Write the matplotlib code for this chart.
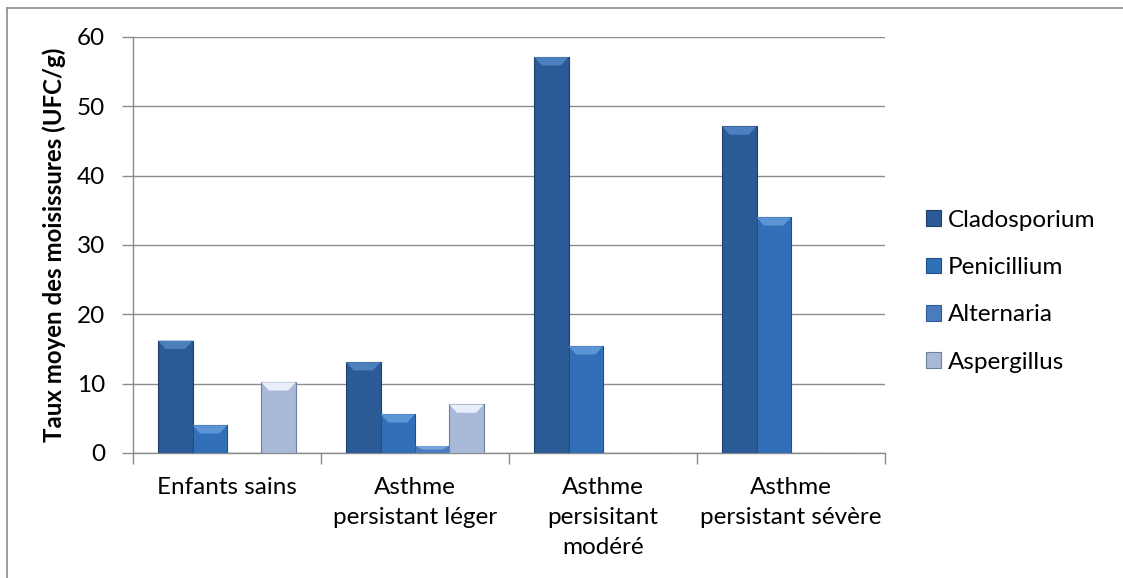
import numpy as np
import matplotlib.pyplot as plt
from matplotlib.patches import Polygon
from matplotlib.lines import Line2D

# categories and values
categories = ['Enfants sains', 'Asthme\npersistant léger', 'Asthme\npersisitant\nmodéré',
              'Asthme\npersistant sévère']
series = ['Cladosporium', 'Penicillium', 'Alternaria', 'Aspergillus']
cladosporium = [16.2, 13.1, 57.1, 47.1]
penicillium = [4.0, 5.6, 15.4, 34.0]
alternaria = [0, 1.0, 0, 0]
aspergillus = [10.2, 7.0, 0, 0]
values = [cladosporium, penicillium, alternaria, aspergillus]

colors = ['#2b5b96', '#3170b8', '#4a7cc0', '#a9b9d9']
edges = ['#1d3f6a', '#1f4f88', '#2f5c98', '#6f7f9f']
tops = ['#4c7fbd', '#5c95d6', '#7aa6dc', '#e8eefa']

plt.rcParams['font.family'] = ['Lato', 'DejaVu Sans']

fig = plt.figure(figsize=(11.23, 5.78), dpi=100)
ax = fig.add_axes([0.1184, 0.2163, 0.788 - 0.1184, 0.936 - 0.2163])

x = np.arange(len(categories))
width = 0.183
for i, (name, vals) in enumerate(zip(series, values)):
    pos = x + (i - 1.5) * width
    bars = ax.bar(pos, vals, width, color=colors[i], edgecolor=edges[i],
                  linewidth=0.8, label=name, zorder=3)
    # bevel highlight on top of each bar
    for b in bars:
        h = b.get_height()
        if h <= 0:
            continue
        x0, w = b.get_x(), b.get_width()
        bev = min(1.2, h / 2)
        ax.add_patch(Polygon([(x0, h), (x0 + w, h), (x0 + w * 0.78, h - bev),
                              (x0 + w * 0.22, h - bev)], closed=True,
                             facecolor=tops[i], edgecolor='none', zorder=4))

ax.set_xlim(-0.5, len(categories) - 0.5)
ax.set_ylim(0, 60)
ax.set_yticks(range(0, 61, 10))
ax.yaxis.grid(True, color='#8c8c8c', linewidth=1.0, zorder=0)
ax.set_axisbelow(True)
ax.set_xticks(x)
ax.set_xticklabels(categories, fontsize=17.5, linespacing=1.55)
ax.set_xticks(np.arange(-0.5, len(categories)), minor=True)
ax.tick_params(axis='x', which='major', length=0, pad=17)
ax.tick_params(axis='x', which='minor', length=8, color='#8c8c8c', width=1)
ax.tick_params(axis='y', length=8, color='#8c8c8c', width=1, labelsize=17.5, pad=12)

for s in ['top', 'right']:
    ax.spines[s].set_visible(False)
for s in ['left', 'bottom']:
    ax.spines[s].set_color('#8c8c8c')
    ax.spines[s].set_linewidth(1.0)

ax.set_ylabel('Taux moyen des moisissures (UFC/g)', fontsize=17.3, fontweight='bold',
              labelpad=8)

ax.legend(loc='center left', bbox_to_anchor=(1.025, 0.389), frameon=False,
          fontsize=17.5, handlelength=0.62, handleheight=0.62, handletextpad=0.3,
          labelspacing=1.08)

# outer chart frame (top and left edges visible)
fig.add_artist(Line2D([7 / 1123, 7 / 1123], [0, 1 - 8 / 578], color='#8c8c8c',
                      linewidth=1.2, transform=fig.transFigure))
fig.add_artist(Line2D([7 / 1123, 1], [1 - 8 / 578, 1 - 8 / 578], color='#8c8c8c',
                      linewidth=1.2, transform=fig.transFigure))

fig.savefig('out.png', dpi=100)
